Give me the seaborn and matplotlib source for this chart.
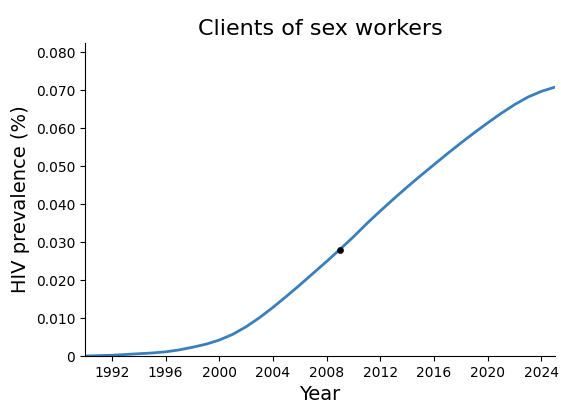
import numpy as np
import pandas as pd
import matplotlib
matplotlib.use('Agg')
import matplotlib.pyplot as plt
import seaborn as sns

years = list(range(1990, 2026))
prevalence = [0.0, 0.0001, 0.0002, 0.0004, 0.0006, 0.0008, 0.0011, 0.0016,
              0.0023, 0.0031, 0.0042, 0.0057, 0.0077, 0.0101, 0.0128, 0.0157,
              0.0187, 0.0218, 0.0249, 0.0281, 0.0314, 0.0349, 0.0382, 0.0414,
              0.0445, 0.0475, 0.0504, 0.0533, 0.0561, 0.0588, 0.0614, 0.0639,
              0.0662, 0.0682, 0.0697, 0.0708]
data_year = [2009]
data_value = [0.028]

sns.set_style('ticks', {'text.color': 'black', 'axes.labelcolor': 'black',
                        'xtick.color': 'black', 'ytick.color': 'black',
                        'axes.edgecolor': 'black'})
fig = plt.figure(figsize=(5.61, 4.03), dpi=100)
ax = fig.add_axes([0.1515, 0.1166, 0.8375, 0.7764])

df = pd.DataFrame({'Year': years, 'HIV prevalence (%)': prevalence})
sns.lineplot(data=df, x='Year', y='HIV prevalence (%)', ax=ax, color='#3a7fbd', linewidth=2)
sns.scatterplot(x=data_year, y=data_value, ax=ax, color='black', s=20, zorder=5, edgecolor='black')

ax.set_xlim(1990, 2025)
ax.set_ylim(0, 0.0824)
ax.set_xticks(range(1992, 2025, 4))
yt = np.arange(0, 0.081, 0.01)
ax.set_yticks(yt)
ax.set_yticklabels(['0'] + ['%.3f' % v for v in yt[1:]])
ax.tick_params(labelsize=10)
ax.set_xlabel('Year', fontsize=14)
ax.set_ylabel('HIV prevalence (%)', fontsize=14)
ax.set_title('Clients of sex workers', fontsize=16)
sns.despine(ax=ax)

fig.savefig('out.png', dpi=100)
